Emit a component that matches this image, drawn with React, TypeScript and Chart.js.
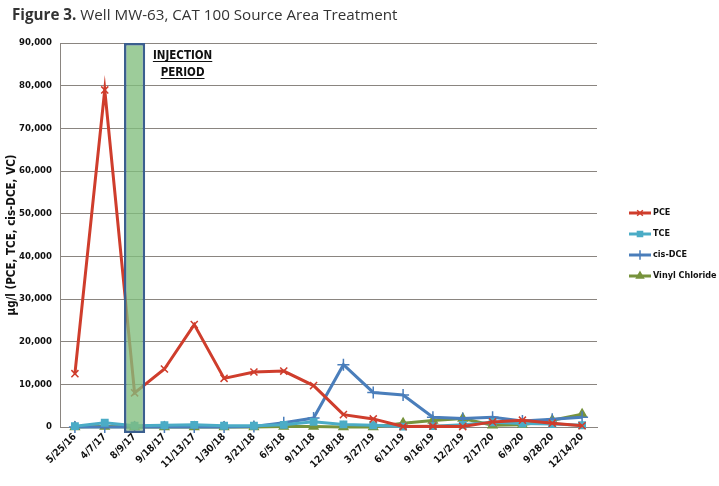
import { useEffect, useRef } from "react";
import { Chart, registerables } from "chart.js";
import { drawPoint } from "chart.js/helpers";

Chart.register(...registerables);

const dates = [
  "5/25/16", "4/7/17", "8/9/17", "9/18/17", "11/13/17", "1/30/18", "3/21/18", "6/5/18", "9/11/18",
  "12/18/18", "3/27/19", "6/11/19", "9/16/19", "12/2/19", "2/17/20", "6/9/20", "9/28/20", "12/14/20",
];
const pce = [12500, 79000, 8000, 13600, 24000, 11400, 12900, 13100, 9700, 2900, 1900, 100, 200, 100, 1200, 1600, 900, 300];
const tce = [200, 1000, 300, 400, 500, 300, 300, 500, 1200, 600, 400, 100, 200, 500, 1100, 800, 700, 400];
const cisDce = [0, 0, 0, 0, 0, 0, 100, 1000, 2100, 14600, 8100, 7500, 2300, 2000, 2300, 1400, 1800, 2300];
const vinylChloride = [0, 100, 0, 0, 0, 0, 0, 100, 100, 0, 0, 900, 1500, 2000, 400, 500, 1600, 3000];
const injectionDate = "8/9/17";
const injectionRange = [-1400, 90000];
const yTicks = [0, 10000, 20000, 30000, 40000, 50000, 60000, 70000, 80000, 90000];

const titleBold = "Figure 3.";
const titleText = "Well MW-63, CAT 100 Source Area Treatment";
const yTitle = "µg/l (PCE, TCE, cis-DCE, VC)";
const NARROW = "'Liberation Sans Narrow', 'DejaVu Sans Condensed', 'Noto Sans', sans-serif";

const series = [
  { label: "PCE", data: pce, color: "#cf3d2c", pointStyle: "crossRot", radius: 5 },
  { label: "TCE", data: tce, color: "#4bacc6", pointStyle: "rect", radius: 4.5 },
  { label: "cis-DCE", data: cisDce, color: "#4a7ebb", pointStyle: "cross", radius: 6 },
  { label: "Vinyl Chloride", data: vinylChloride, color: "#77933c", pointStyle: "triangle", radius: 5 },
];

const decorations = {
  id: "decorations",
  afterDraw(chart: any) {
    const { ctx, chartArea, scales } = chart;
    ctx.save();

    // title
    ctx.fillStyle = "#333";
    ctx.textAlign = "left";
    ctx.textBaseline = "alphabetic";
    ctx.font = "bold 15.2px 'Open Sans', sans-serif";
    ctx.fillText(titleBold, 12, 20);
    const w = ctx.measureText(titleBold + " ").width;
    ctx.font = "15.2px 'Open Sans', sans-serif";
    ctx.fillText(titleText, 12 + w, 20);

    // injection label
    const cx = scales.x.getPixelForValue(dates.indexOf(injectionDate)) + 48;
    ctx.fillStyle = "#111";
    ctx.strokeStyle = "#111";
    ctx.lineWidth = 1.2;
    ctx.font = `bold 11.5px ${NARROW}`;
    ctx.textAlign = "center";
    ["INJECTION", "PERIOD"].forEach((t, i) => {
      const y = chartArea.top + 16 + i * 17;
      ctx.fillText(t, cx, y);
      const tw = ctx.measureText(t).width;
      ctx.beginPath();
      ctx.moveTo(cx - tw / 2, y + 2.5);
      ctx.lineTo(cx + tw / 2, y + 2.5);
      ctx.stroke();
    });

    // legend
    ctx.textAlign = "left";
    ctx.textBaseline = "middle";
    ctx.font = `bold 9px ${NARROW}`;
    series.forEach((s, i) => {
      const y = 213 + i * 21;
      ctx.strokeStyle = s.color;
      ctx.fillStyle = s.color;
      ctx.lineWidth = 3;
      ctx.beginPath();
      ctx.moveTo(629, y);
      ctx.lineTo(651, y);
      ctx.stroke();
      ctx.lineWidth = 1.5;
      drawPoint(ctx, { pointStyle: s.pointStyle as any, radius: s.radius * 0.8, borderWidth: 1.5, rotation: 0 }, 640, y);
      ctx.fillStyle = "#111";
      ctx.fillText(s.label, 653, y);
    });
    ctx.restore();
  },
};

export default function App() {
  const canvasRef = useRef<HTMLCanvasElement | null>(null);

  useEffect(() => {
    document.body.style.margin = "0";
    if (!canvasRef.current) return;
    const ctx = canvasRef.current.getContext("2d");
    if (!ctx) return;

    const injection = dates.map((d) => (d === injectionDate ? injectionRange : null));

    const chart = new Chart(ctx, {
      type: "line",
      data: {
        labels: dates,
        datasets: [
          {
            type: "bar",
            label: "Injection Period",
            data: injection as any,
            backgroundColor: "rgba(130, 190, 125, 0.78)",
            borderColor: "#3b5f8f",
            borderWidth: 2.5,
            borderSkipped: false,
            categoryPercentage: 1,
            barPercentage: 0.71,
            order: 0,
            clip: false as any,
          },
          ...series.map((s) => ({
            type: "line" as const,
            label: s.label,
            data: s.data,
            borderColor: s.color,
            backgroundColor: s.color,
            pointBorderColor: s.color,
            pointBackgroundColor: s.color,
            borderWidth: 3,
            pointStyle: s.pointStyle as any,
            pointRadius: s.radius,
            pointBorderWidth: 1.5,
            tension: 0,
            order: 1,
            clip: false as any,
          })),
        ],
      },
      options: {
        animation: false,
        responsive: true,
        maintainAspectRatio: false,
        layout: { padding: { left: 0, top: 43, right: 122, bottom: 0 } },
        plugins: {
          legend: { display: false },
          tooltip: { enabled: false },
        },
        scales: {
          x: {
            offset: true,
            grid: { display: false, drawTicks: false },
            border: { display: true, color: "#8a8580", width: 1 },
            ticks: {
              autoSkip: false,
              maxRotation: 45,
              minRotation: 45,
              padding: 4,
              color: "#111",
              font: { family: NARROW, size: 10, weight: "bold" },
            },
            afterFit: (scale: any) => {
              scale.height = 59;
            },
          },
          y: {
            min: 0,
            max: 90000,
            afterBuildTicks: (scale: any) => {
              scale.ticks = yTicks.map((v) => ({ value: v }));
            },
            grid: { color: "#8a8580", lineWidth: 1, drawTicks: false },
            border: { display: true, color: "#8a8580", width: 1 },
            ticks: {
              padding: 8,
              color: "#111",
              font: { family: NARROW, size: 9.5, weight: "bold" },
              callback: (v: any) => Number(v).toLocaleString("en-US"),
            },
            title: {
              display: true,
              text: yTitle,
              color: "#111",
              padding: { top: 5, bottom: 0 },
              font: { family: NARROW, size: 11.5, weight: "bold", lineHeight: 1.2 },
            },
            afterFit: (scale: any) => {
              scale.width = 60;
            },
          },
        },
      },
      plugins: [decorations],
    });

    return () => {
      chart.destroy();
    };
  }, []);

  return (
    <div style={{ position: "relative", width: 719, height: 486, background: "#fff" }}>
      <canvas ref={canvasRef} />
    </div>
  );
}
